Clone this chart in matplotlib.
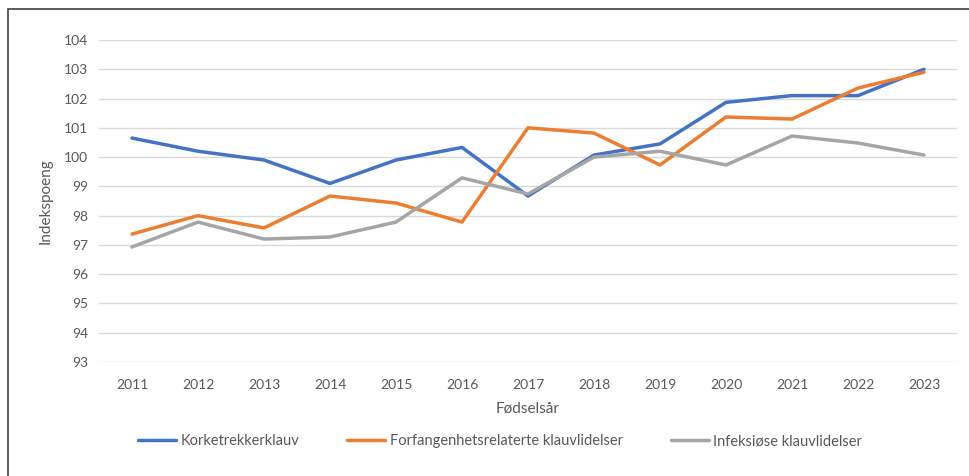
import matplotlib
matplotlib.use("Agg")
import matplotlib.pyplot as plt
from matplotlib.patches import Rectangle

years = ["2011", "2012", "2013", "2014", "2015", "2016", "2017", "2018", "2019", "2020", "2021", "2022", "2023"]
korketrekker = [100.65, 100.2, 99.9, 99.1, 99.9, 100.33, 98.67, 100.07, 100.45, 101.87, 102.1, 102.1, 103.0]
forfangenhet = [97.37, 98.0, 97.58, 98.67, 98.43, 97.78, 101.0, 100.82, 99.73, 101.37, 101.3, 102.36, 102.9]
infeksiose = [96.93, 97.78, 97.2, 97.27, 97.78, 99.29, 98.74, 100.0, 100.2, 99.73, 100.72, 100.48, 100.07]
series_names = ["Korketrekkerklauv", "Forfangenhetsrelaterte klauvlidelser", "Infeksiøse klauvlidelser"]
yticks = list(range(93, 105))

plt.rcParams['font.family'] = ['Lato', 'DejaVu Sans']
txt = "#595959"

fig = plt.figure(figsize=(9.69, 4.76), dpi=100)
ax = fig.add_axes([99/969, 1-362/476, (957-99)/969, (362-40)/476])

x = list(range(len(years)))
colors = ["#4472C4", "#ED7D31", "#A5A5A5"]
for vals, c, n in zip([korketrekker, forfangenhet, infeksiose], colors, series_names):
    ax.plot(x, vals, color=c, lw=2.5, label=n, solid_capstyle='round', solid_joinstyle='round')

ax.set_xlim(-0.5, len(years) - 0.5)
ax.set_ylim(93, 104)
ax.set_yticks(yticks)
ax.set_xticks(x)
ax.set_xticklabels(years)
ax.grid(axis='y', color="#D9D9D9", lw=1)
ax.set_axisbelow(True)
for s in ax.spines.values():
    s.set_visible(False)
ax.tick_params(length=0, labelsize=10, colors=txt, pad=8)
ax.tick_params(axis='x', pad=12)
ax.set_ylabel("Indekspoeng", fontsize=11, color=txt, labelpad=8)
ax.set_xlabel("Fødselsår", fontsize=11, color=txt, labelpad=8)

leg = fig.legend(loc='center', bbox_to_anchor=(500/969, 1-441/476), ncol=3, frameon=False,
                 fontsize=10.5, handlelength=2.6, columnspacing=3.3, handletextpad=0.3)
for t in leg.get_texts():
    t.set_color(txt)

fig.patches.append(Rectangle((8/969, -0.1), 1.2, 1-9/476+0.1, transform=fig.transFigure,
                             fill=False, edgecolor="#404040", lw=1.2))

fig.savefig("out.png", dpi=100)
